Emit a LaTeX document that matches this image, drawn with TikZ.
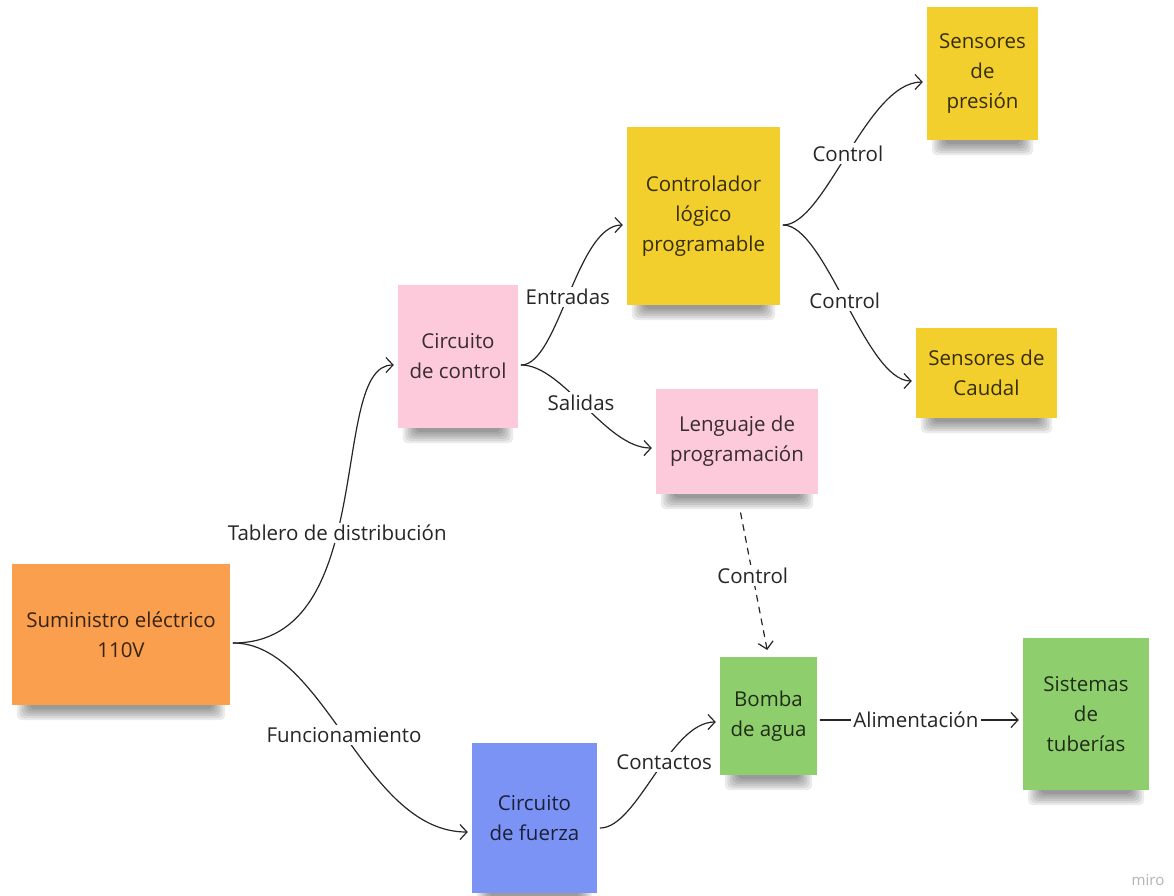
\documentclass[tikz,border=0pt]{standalone}
\usepackage{fontspec}
\setmainfont{Open Sans}
\usetikzlibrary{arrows.meta,backgrounds,calc}

\definecolor{stickyorange}{HTML}{F99F4E}
\definecolor{stickypink}{HTML}{FDCADC}
\definecolor{stickyyellow}{HTML}{F3CF2E}
\definecolor{stickygreen}{HTML}{8FCE6C}
\definecolor{stickyblue}{HTML}{7C93F6}
\definecolor{ink}{HTML}{262626}
\definecolor{watermark}{HTML}{B4B4B4}

\begin{document}
\begin{tikzpicture}[x=1pt,y=-1pt,
  note/.style={inner sep=0pt, align=center, fill=#1, text=#1!22!black,
    font=\fontsize{20.5}{30}\selectfont},
  lbl/.style={fill=white, inner sep=2.5pt, text=ink,
    font=\fontsize{20.5}{24}\selectfont},
  conn/.style={draw=ink, line width=1.2pt, line cap=round, line join=round,
    -{Straight Barb[length=7pt,width=15pt,line width=1.2pt]},
    shorten <=3pt, shorten >=4pt},
  dashedconn/.style={conn, dash pattern=on 6pt off 6pt}
]
\useasboundingbox (0,0) rectangle (1174,895);

% sticky notes
\node[note=stickyorange, minimum width=218pt, minimum height=141pt] (sumin) at (121,634.5) {Suministro eléctrico\\110V};
\node[note=stickypink, minimum width=120pt, minimum height=143pt] (cctrl) at (458,356.5) {Circuito\\de control};
\node[note=stickyyellow, minimum width=153pt, minimum height=178pt] (plc) at (703.5,216) {Controlador\\lógico\\programable};
\node[note=stickyyellow, minimum width=111pt, minimum height=133pt] (spres) at (982.5,73.5) {Sensores\\de\\presión};
\node[note=stickyyellow, minimum width=141pt, minimum height=90pt] (scaud) at (986.5,373) {Sensores de\\Caudal};
\node[note=stickypink, minimum width=162pt, minimum height=105pt] (leng) at (737,441.5) {Lenguaje de\\programación};
\node[note=stickyblue, minimum width=125pt, minimum height=150pt] (cfuer) at (534.5,818) {Circuito\\de fuerza};
\node[note=stickygreen, minimum width=97pt, minimum height=118pt] (bomba) at (768.5,716) {Bomba\\de agua};
\node[note=stickygreen, minimum width=126pt, minimum height=152pt] (sist) at (1086,714) {Sistemas\\de\\tuberías};

\node[text=watermark, font=\fontsize{15}{15}\selectfont] (wm) at (1148,880) {miro};

% connection points on the note sides
\coordinate (sumin-e) at ([yshift=-8.5pt]sumin.east);
\coordinate (cctrl-w) at ([yshift=-8.5pt]cctrl.west);
\coordinate (cctrl-e) at ([yshift=-8.5pt]cctrl.east);
\coordinate (plc-w) at ([yshift=-9pt]plc.west);
\coordinate (plc-e) at ([yshift=-9pt]plc.east);
\coordinate (spres-w) at ([yshift=-8.5pt]spres.west);
\coordinate (scaud-w) at ([yshift=-8pt]scaud.west);
\coordinate (leng-w) at ([yshift=-6.5pt]leng.west);
\coordinate (cfuer-w) at ([yshift=-14pt]cfuer.west);
\coordinate (cfuer-e) at ([yshift=-10pt]cfuer.east);
\coordinate (bomba-w) at ([yshift=-6pt]bomba.west);
\coordinate (bomba-e) at ([yshift=-4pt]bomba.east);
\coordinate (sist-w) at (bomba-e -| sist.west);

% connectors
\draw[conn] (sumin-e) .. controls +(150,0) and +(-70,0) .. node[lbl,pos=0.43] {Tablero de distribución} (cctrl-w);
\draw[conn] (sumin-e) .. controls +(95,0) and +(-108,0) .. node[lbl,pos=0.49] {Funcionamiento} (cfuer-w);
\draw[conn] (cctrl-e) .. controls +(40,0) and +(-50,0) .. node[lbl,pos=0.49] {Entradas} (plc-w);
\draw[conn] (cctrl-e) .. controls +(45,0) and +(-50,0) .. node[lbl,pos=0.47] {Salidas} (leng-w);
\draw[conn] (plc-e) .. controls +(45,0) and +(-60,0) .. node[lbl,pos=0.5] {Control} (spres-w);
\draw[conn] (plc-e) .. controls +(45,0) and +(-50,0) .. node[lbl,pos=0.49] {Control} (scaud-w);
\draw[dashedconn, shorten <=19pt, shorten >=7pt] (leng.south) -- node[lbl,pos=0.5] {Control} (bomba.north);
\draw[conn] (cfuer-e) .. controls +(40,0) and +(-50,0) .. node[lbl,pos=0.58] {Contactos} (bomba-w);
\draw[conn] (bomba-e) -- node[lbl,pos=0.48] {Alimentación} (sist-w);

% page and soft shadows under the notes
\begin{scope}[on background layer]
  \fill[white] (0,0) rectangle (1174,895);
  \foreach \n in {sumin,cctrl,plc,spres,scaud,leng,cfuer,bomba,sist}{
    \foreach \k in {0,...,5}{
      \fill[black, opacity=0.08, rounded corners=5pt]
        ($(\n.south west)+(5+2.5*\k,-6)$) rectangle ($(\n.south east)+(-5-2.5*\k,15-2.2*\k)$);
    }
  }
\end{scope}
\end{tikzpicture}
\end{document}
